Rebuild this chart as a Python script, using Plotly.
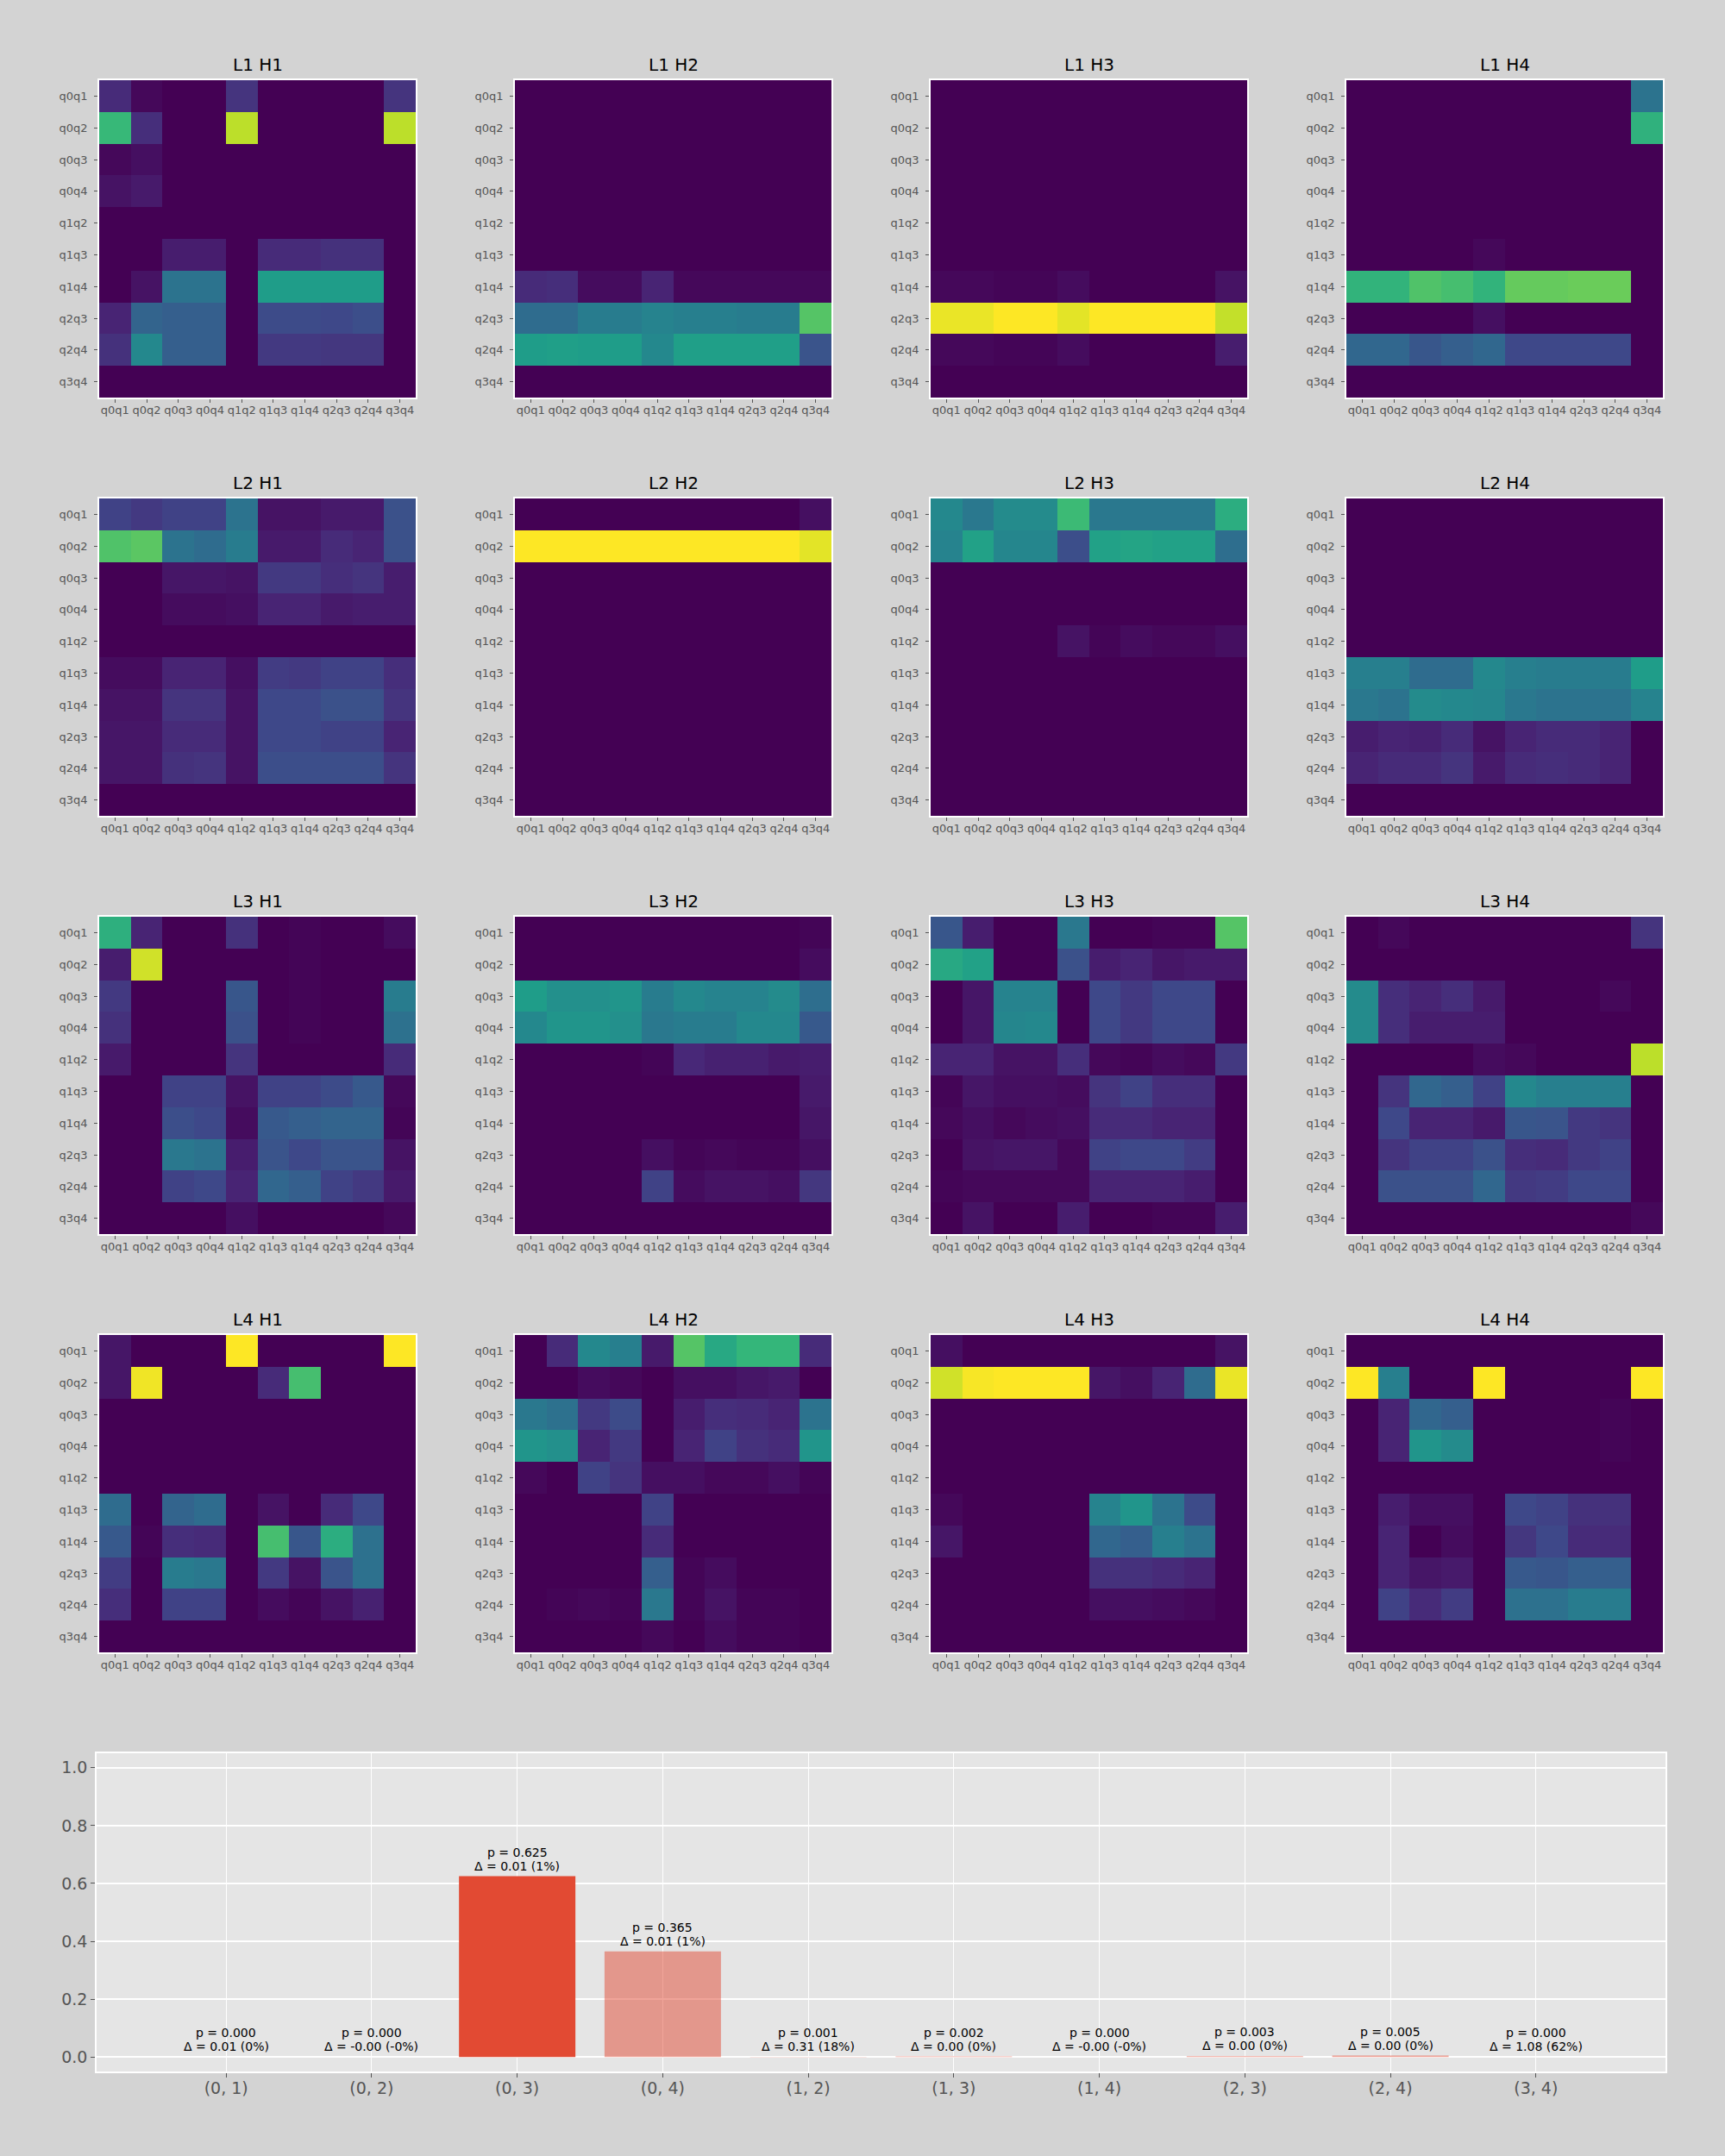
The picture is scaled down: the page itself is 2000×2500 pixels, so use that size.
import plotly.graph_objects as go

W, H = 2000, 2500
labels = ["q0q1", "q0q2", "q0q3", "q0q4", "q1q2", "q1q3", "q1q4", "q2q3", "q2q4", "q3q4"]
Z0 = [0] * 10

L1H1 = [
    [0.12, 0.02, 0, 0, 0.15, 0, 0, 0, 0, 0.15],
    [0.67, 0.13, 0, 0, 0.90, 0, 0, 0, 0, 0.90],
    [0.02, 0.04, 0, 0, 0, 0, 0, 0, 0, 0],
    [0.05, 0.07, 0, 0, 0, 0, 0, 0, 0, 0],
    Z0,
    [0, 0, 0.08, 0.08, 0, 0.12, 0.12, 0.14, 0.14, 0],
    [0, 0.05, 0.38, 0.38, 0, 0.55, 0.55, 0.55, 0.55, 0],
    [0.10, 0.32, 0.30, 0.30, 0, 0.23, 0.23, 0.22, 0.24, 0],
    [0.14, 0.47, 0.30, 0.30, 0, 0.17, 0.17, 0.16, 0.16, 0],
    Z0,
]
L1H2 = [
    Z0, Z0, Z0, Z0, Z0, Z0,
    [0.12, 0.13, 0.03, 0.03, 0.10, 0.02, 0.02, 0.02, 0.02, 0.02],
    [0.35, 0.35, 0.42, 0.42, 0.45, 0.43, 0.43, 0.42, 0.42, 0.73],
    [0.55, 0.56, 0.55, 0.55, 0.47, 0.56, 0.56, 0.56, 0.56, 0.26],
    Z0,
]
L1H3 = [
    Z0, Z0, Z0, Z0, Z0, Z0,
    [0.02, 0.02, 0.01, 0.01, 0.03, 0, 0, 0, 0, 0.05],
    [0.97, 0.97, 1.0, 1.0, 0.96, 1.0, 1.0, 1.0, 1.0, 0.91],
    [0.02, 0.02, 0.01, 0.01, 0.03, 0, 0, 0, 0, 0.08],
    Z0,
]
L1H4 = [
    [0, 0, 0, 0, 0, 0, 0, 0, 0, 0.38],
    [0, 0, 0, 0, 0, 0, 0, 0, 0, 0.64],
    Z0, Z0, Z0,
    [0, 0, 0, 0, 0.02, 0, 0, 0, 0, 0],
    [0.65, 0.65, 0.72, 0.70, 0.65, 0.76, 0.76, 0.77, 0.77, 0],
    [0, 0, 0, 0, 0.04, 0, 0, 0, 0, 0],
    [0.33, 0.33, 0.27, 0.30, 0.33, 0.22, 0.22, 0.22, 0.22, 0],
    Z0,
]
L2H1 = [
    [0.20, 0.17, 0.20, 0.20, 0.38, 0.05, 0.05, 0.07, 0.07, 0.25],
    [0.72, 0.74, 0.38, 0.35, 0.42, 0.07, 0.07, 0.12, 0.10, 0.25],
    [0, 0, 0.06, 0.06, 0.05, 0.17, 0.17, 0.13, 0.15, 0.08],
    [0, 0, 0.03, 0.03, 0.04, 0.10, 0.10, 0.07, 0.08, 0.08],
    Z0,
    [0.03, 0.03, 0.10, 0.10, 0.04, 0.18, 0.17, 0.20, 0.20, 0.13],
    [0.05, 0.05, 0.15, 0.15, 0.05, 0.22, 0.22, 0.25, 0.25, 0.15],
    [0.06, 0.06, 0.12, 0.12, 0.05, 0.22, 0.22, 0.20, 0.20, 0.10],
    [0.06, 0.06, 0.14, 0.15, 0.05, 0.24, 0.24, 0.24, 0.24, 0.15],
    Z0,
]
L2H2 = [
    [0, 0, 0, 0, 0, 0, 0, 0, 0, 0.04],
    [1.0, 1.0, 1.0, 1.0, 1.0, 1.0, 1.0, 1.0, 1.0, 0.96],
    Z0, Z0, Z0, Z0, Z0, Z0, Z0, Z0,
]
L2H3 = [
    [0.47, 0.40, 0.48, 0.48, 0.68, 0.40, 0.40, 0.40, 0.40, 0.62],
    [0.45, 0.57, 0.46, 0.46, 0.24, 0.57, 0.58, 0.57, 0.57, 0.36],
    Z0, Z0,
    [0, 0, 0, 0, 0.05, 0.01, 0.03, 0.02, 0.02, 0.04],
    Z0, Z0, Z0, Z0, Z0,
]
L2H4 = [
    Z0, Z0, Z0, Z0, Z0,
    [0.43, 0.43, 0.35, 0.35, 0.47, 0.43, 0.42, 0.42, 0.42, 0.55],
    [0.40, 0.38, 0.48, 0.47, 0.46, 0.40, 0.38, 0.38, 0.38, 0.45],
    [0.08, 0.10, 0.09, 0.12, 0.05, 0.10, 0.12, 0.12, 0.10, 0],
    [0.10, 0.12, 0.12, 0.15, 0.07, 0.12, 0.13, 0.12, 0.10, 0],
    Z0,
]
L3H1 = [
    [0.63, 0.10, 0, 0, 0.14, 0, 0.01, 0, 0, 0.03],
    [0.08, 0.93, 0, 0, 0, 0, 0.01, 0, 0, 0],
    [0.17, 0, 0, 0, 0.27, 0, 0.01, 0, 0, 0.42],
    [0.14, 0, 0, 0, 0.25, 0, 0.01, 0, 0, 0.37],
    [0.07, 0, 0, 0, 0.15, 0, 0, 0, 0, 0.12],
    [0, 0, 0.20, 0.20, 0.05, 0.20, 0.20, 0.23, 0.28, 0.02],
    [0, 0, 0.24, 0.22, 0.03, 0.28, 0.30, 0.32, 0.32, 0.01],
    [0, 0, 0.40, 0.38, 0.08, 0.26, 0.22, 0.26, 0.26, 0.05],
    [0, 0, 0.20, 0.22, 0.10, 0.33, 0.30, 0.20, 0.17, 0.07],
    [0, 0, 0, 0, 0.04, 0, 0, 0, 0, 0.02],
]
L3H2 = [
    [0, 0, 0, 0, 0, 0, 0, 0, 0, 0.01],
    [0, 0, 0, 0, 0, 0, 0, 0, 0, 0.03],
    [0.55, 0.50, 0.50, 0.52, 0.42, 0.47, 0.45, 0.45, 0.48, 0.36],
    [0.47, 0.52, 0.52, 0.50, 0.40, 0.42, 0.42, 0.47, 0.47, 0.28],
    [0, 0, 0, 0, 0.01, 0.11, 0.09, 0.09, 0.07, 0.08],
    [0, 0, 0, 0, 0, 0, 0, 0, 0, 0.07],
    [0, 0, 0, 0, 0, 0, 0, 0, 0, 0.06],
    [0, 0, 0, 0, 0.04, 0.01, 0.02, 0.01, 0.01, 0.04],
    [0, 0, 0, 0, 0.20, 0.03, 0.05, 0.05, 0.04, 0.16],
    Z0,
]
L3H3 = [
    [0.27, 0.08, 0, 0, 0.40, 0, 0, 0.01, 0.01, 0.73],
    [0.60, 0.57, 0, 0, 0.25, 0.08, 0.10, 0.06, 0.07, 0.07],
    [0, 0.06, 0.45, 0.45, 0, 0.22, 0.17, 0.22, 0.22, 0],
    [0, 0.06, 0.46, 0.47, 0, 0.22, 0.17, 0.22, 0.22, 0],
    [0.10, 0.10, 0.05, 0.05, 0.13, 0.02, 0.01, 0.03, 0.02, 0.17],
    [0.01, 0.06, 0.04, 0.04, 0.03, 0.15, 0.20, 0.13, 0.13, 0],
    [0.02, 0.04, 0.02, 0.03, 0.04, 0.12, 0.12, 0.10, 0.10, 0],
    [0, 0.05, 0.06, 0.06, 0.02, 0.20, 0.22, 0.22, 0.18, 0],
    [0.01, 0.02, 0.02, 0.02, 0.02, 0.10, 0.10, 0.10, 0.08, 0],
    [0, 0.05, 0, 0, 0.08, 0, 0, 0.01, 0.01, 0.08],
]
L3H4 = [
    [0, 0.02, 0, 0, 0, 0, 0, 0, 0, 0.15],
    Z0,
    [0.48, 0.13, 0.10, 0.13, 0.07, 0, 0, 0, 0.02, 0],
    [0.48, 0.13, 0.08, 0.08, 0.08, 0, 0, 0, 0, 0],
    [0, 0, 0, 0, 0.03, 0.02, 0, 0, 0, 0.90],
    [0, 0.15, 0.33, 0.30, 0.20, 0.47, 0.43, 0.43, 0.43, 0],
    [0, 0.22, 0.10, 0.10, 0.07, 0.27, 0.26, 0.17, 0.15, 0],
    [0, 0.15, 0.20, 0.20, 0.25, 0.13, 0.12, 0.17, 0.20, 0],
    [0, 0.25, 0.25, 0.25, 0.33, 0.17, 0.18, 0.22, 0.22, 0],
    [0, 0, 0, 0, 0, 0, 0, 0, 0, 0.02],
]
L4H1 = [
    [0.06, 0, 0, 0, 1.0, 0, 0, 0, 0, 1.0],
    [0.06, 0.98, 0, 0, 0, 0.12, 0.70, 0, 0, 0],
    Z0, Z0, Z0,
    [0.35, 0, 0.32, 0.35, 0, 0.05, 0, 0.12, 0.22, 0],
    [0.28, 0.01, 0.13, 0.12, 0, 0.70, 0.27, 0.62, 0.37, 0],
    [0.18, 0, 0.42, 0.40, 0, 0.17, 0.05, 0.26, 0.37, 0],
    [0.13, 0, 0.20, 0.20, 0, 0.03, 0.01, 0.05, 0.09, 0],
    Z0,
]
L4H2 = [
    [0, 0.12, 0.47, 0.43, 0.07, 0.73, 0.60, 0.66, 0.66, 0.12],
    [0, 0, 0.03, 0.02, 0, 0.04, 0.04, 0.06, 0.07, 0],
    [0.40, 0.37, 0.17, 0.23, 0, 0.08, 0.13, 0.12, 0.10, 0.38],
    [0.52, 0.50, 0.10, 0.17, 0, 0.10, 0.20, 0.14, 0.12, 0.52],
    [0.02, 0, 0.20, 0.15, 0.04, 0.04, 0.02, 0.02, 0.04, 0.01],
    [0, 0, 0, 0, 0.20, 0, 0, 0, 0, 0],
    [0, 0, 0, 0, 0.12, 0, 0, 0, 0, 0],
    [0, 0, 0, 0, 0.30, 0.01, 0.03, 0, 0, 0],
    [0, 0.01, 0.02, 0.01, 0.40, 0.01, 0.05, 0.01, 0.01, 0],
    [0, 0, 0, 0, 0.02, 0, 0.03, 0.01, 0.01, 0],
]
L4H3 = [
    [0.04, 0, 0, 0, 0, 0, 0, 0, 0, 0.05],
    [0.93, 0.99, 1.0, 1.0, 1.0, 0.06, 0.04, 0.10, 0.35, 0.97],
    Z0, Z0, Z0,
    [0.02, 0, 0, 0, 0, 0.45, 0.52, 0.38, 0.23, 0],
    [0.06, 0, 0, 0, 0, 0.33, 0.30, 0.43, 0.38, 0],
    [0, 0, 0, 0, 0, 0.14, 0.14, 0.12, 0.10, 0],
    [0, 0, 0, 0, 0, 0.04, 0.04, 0.03, 0.02, 0],
    Z0,
]
L4H4 = [
    Z0,
    [1.0, 0.43, 0, 0, 1.0, 0, 0, 0, 0, 1.0],
    [0, 0.10, 0.33, 0.30, 0, 0, 0, 0, 0.01, 0],
    [0, 0.10, 0.52, 0.48, 0, 0, 0, 0, 0.01, 0],
    Z0,
    [0, 0.08, 0.04, 0.04, 0, 0.22, 0.20, 0.14, 0.14, 0],
    [0, 0.10, 0, 0.03, 0, 0.16, 0.22, 0.12, 0.12, 0],
    [0, 0.10, 0.06, 0.07, 0, 0.28, 0.27, 0.30, 0.30, 0],
    [0, 0.20, 0.12, 0.18, 0, 0.37, 0.37, 0.42, 0.42, 0],
    Z0,
]

heatmaps = [
    ["L1 H1", L1H1], ["L1 H2", L1H2], ["L1 H3", L1H3], ["L1 H4", L1H4],
    ["L2 H1", L2H1], ["L2 H2", L2H2], ["L2 H3", L2H3], ["L2 H4", L2H4],
    ["L3 H1", L3H1], ["L3 H2", L3H2], ["L3 H3", L3H3], ["L3 H4", L3H4],
    ["L4 H1", L4H1], ["L4 H2", L4H2], ["L4 H3", L4H3], ["L4 H4", L4H4],
]

pairs = ["(0, 1)", "(0, 2)", "(0, 3)", "(0, 4)", "(1, 2)", "(1, 3)", "(1, 4)", "(2, 3)", "(2, 4)", "(3, 4)"]
p_values = [0.000, 0.000, 0.625, 0.365, 0.001, 0.002, 0.000, 0.003, 0.005, 0.000]
delta = [0.01, -0.001, 0.01, 0.01, 0.31, 0.0, -0.001, 0.0, 0.0, 1.08]
delta_pct = [0.0, -0.1, 1.0, 1.0, 18.0, 0.0, -0.1, 0.0, 0.0, 62.0]

# ---------------- layout geometry (pixels) ----------------
col_left = [115, 597, 1079, 1561]
row_top = [93, 578, 1063, 1548]
hm_w, hm_h = 367, 368

def xd(a, b):
    return [a / W, b / W]

def yd(top, bottom):
    return [1 - bottom / H, 1 - top / H]

BG = "#d3d3d3"
TICK = "#555555"
FONT = "DejaVu Sans"

fig = go.Figure()
layout = dict(
    width=W, height=H,
    margin=dict(l=0, r=0, t=0, b=0),
    paper_bgcolor=BG, plot_bgcolor="#e5e5e5",
    font=dict(family=FONT, color=TICK),
    showlegend=False,
)
annotations = []

for i, (title, z) in enumerate(heatmaps):
    r, c = divmod(i, 4)
    k = i + 1
    xa = "x" if k == 1 else f"x{k}"
    ya = "y" if k == 1 else f"y{k}"
    fig.add_trace(go.Heatmap(
        z=z, x=labels, y=labels, colorscale="Viridis", zmin=0, zmax=1,
        showscale=False, xaxis=xa, yaxis=ya, xgap=0, ygap=0,
    ))
    L, T = col_left[c], row_top[r]
    layout[f"xaxis{k}"] = dict(
        domain=xd(L, L + hm_w), anchor=ya, type="category",
        tickfont=dict(size=13, color=TICK, family=FONT), tickangle=0,
        ticks="outside", ticklen=4, tickcolor=TICK, ticklabelstandoff=-2,
        showline=True, linecolor="white", linewidth=1.5, mirror=True,
        showgrid=False, zeroline=False,
    )
    layout[f"yaxis{k}"] = dict(
        domain=yd(T, T + hm_h), anchor=xa, type="category",
        autorange="reversed",
        tickfont=dict(size=13, color=TICK, family=FONT),
        ticks="outside", ticklen=4, tickcolor=TICK, ticklabelstandoff=5,
        showline=True, linecolor="white", linewidth=1.5, mirror=True,
        showgrid=False, zeroline=False,
    )
    annotations.append(dict(
        text=title, xref="paper", yref="paper",
        x=(L + hm_w / 2) / W, y=1 - (T - 4) / H,
        xanchor="center", yanchor="bottom", showarrow=False,
        font=dict(size=20, color="black", family=FONT),
    ))

# ---------------- bar chart ----------------
kb = 17
pmax = max(p_values)
bar_colors = [
    "rgba(226,74,51,1.0)" if p == pmax else "rgba(226,74,51,0.5)" for p in p_values
]
fig.add_trace(go.Bar(
    x=list(range(len(pairs))), y=p_values, marker=dict(color=bar_colors, line=dict(width=0)),
    width=0.8, xaxis=f"x{kb}", yaxis=f"y{kb}",
))
layout[f"xaxis{kb}"] = dict(
    domain=xd(112, 1931), anchor=f"y{kb}", range=[-0.89, 9.89],
    tickmode="array", tickvals=list(range(len(pairs))), ticktext=pairs,
    tickfont=dict(size=19, color=TICK, family=FONT),
    ticks="outside", ticklen=5, tickcolor=TICK, ticklabelstandoff=-4,
    showgrid=True, gridcolor="white", gridwidth=1,
    showline=True, linecolor="white", linewidth=1.5, mirror=True, zeroline=False,
)
layout[f"yaxis{kb}"] = dict(
    domain=yd(2033, 2402), anchor=f"x{kb}", range=[-0.05, 1.05],
    tickmode="array", tickvals=[0, 0.2, 0.4, 0.6, 0.8, 1.0], tickformat=".1f",
    tickfont=dict(size=19, color=TICK, family=FONT),
    ticks="outside", ticklen=5, tickcolor=TICK,
    showgrid=True, gridcolor="white", gridwidth=1.5,
    showline=True, linecolor="white", linewidth=1.5, mirror=True, zeroline=False,
)
for i, p in enumerate(p_values):
    annotations.append(dict(
        text=f"Δ = {delta[i]:.2f} ({delta_pct[i]:.0f}%)",
        xref=f"x{kb}", yref=f"y{kb}", x=i, y=p,
        xanchor="center", yanchor="bottom", yshift=2, showarrow=False,
        font=dict(size=14, color="black", family=FONT),
    ))
    annotations.append(dict(
        text=f"p = {p:.3f}",
        xref=f"x{kb}", yref=f"y{kb}", x=i, y=p,
        xanchor="center", yanchor="bottom", yshift=18, showarrow=False,
        font=dict(size=14, color="black", family=FONT),
    ))

layout["annotations"] = annotations
fig.update_layout(**layout)
fig.write_html(
    "out.html",
    config={"displayModeBar": False},
    post_script="document.body.style.margin='0';document.body.style.background='#d3d3d3';",
)
